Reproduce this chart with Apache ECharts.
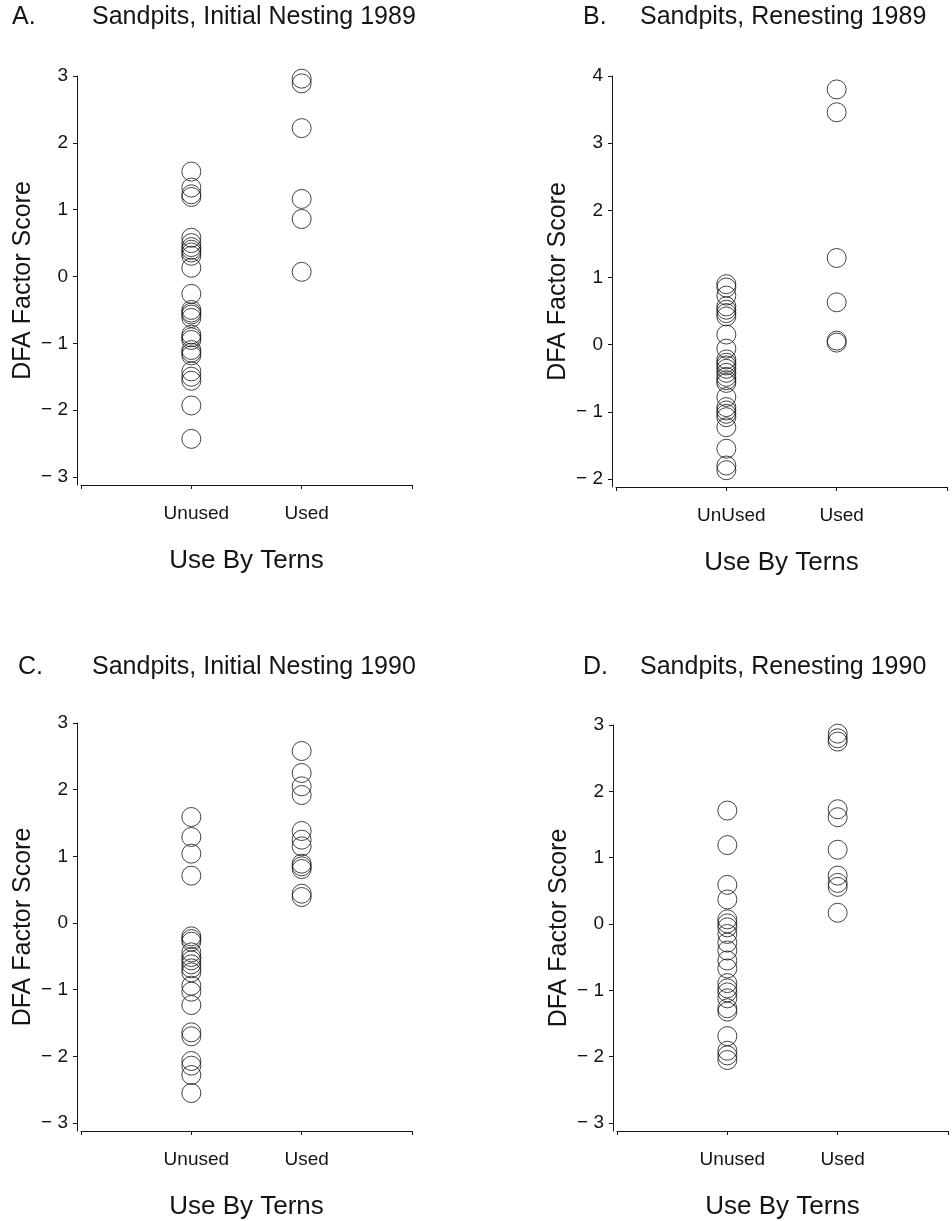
<!DOCTYPE html>
<html>
<head>
<meta charset="utf-8">
<script src="https://cdn.jsdelivr.net/npm/echarts@6/dist/echarts.min.js"></script>
<style>
html,body{margin:0;padding:0;background:#fff;}
#chart{width:952px;height:1221px;}
</style>
</head>
<body>
<div id="chart"></div>
<script>
// ---- data ----
const panelLetters = ['A.', 'B.', 'C.', 'D.'];
const panelTitles = ['Sandpits, Initial Nesting 1989', 'Sandpits, Renesting 1989',
                     'Sandpits, Initial Nesting 1990', 'Sandpits, Renesting 1990'];
const xLabelsA = ['Unused', 'Used'];
const xLabelsB = ['UnUsed', 'Used'];
const xLabelsC = ['Unused', 'Used'];
const xLabelsD = ['Unused', 'Used'];
const yTicksACD = [-3, -2, -1, 0, 1, 2, 3];
const yTicksB = [-2, -1, 0, 1, 2, 3, 4];

const A_unused = [1.57, 1.33, 1.23, 1.19, 0.58, 0.50, 0.44, 0.40, 0.36, 0.31, 0.13, -0.26, -0.50, -0.54, -0.57, -0.62, -0.87, -0.91, -0.95, -1.10, -1.14, -1.18, -1.42, -1.50, -1.56, -1.93, -2.43];
const A_used = [2.96, 2.89, 2.22, 1.16, 0.86, 0.07];
const B_unused = [0.90, 0.85, 0.73, 0.57, 0.52, 0.47, 0.42, 0.15, -0.06, -0.22, -0.27, -0.31, -0.36, -0.42, -0.48, -0.53, -0.57, -0.78, -0.93, -0.98, -1.03, -1.08, -1.23, -1.55, -1.80, -1.87];
const B_used = [3.80, 3.46, 1.29, 0.63, 0.06, 0.03];
const C_unused = [1.59, 1.29, 1.04, 0.71, -0.20, -0.24, -0.28, -0.44, -0.51, -0.56, -0.62, -0.68, -0.74, -0.94, -1.03, -1.23, -1.64, -1.70, -2.07, -2.14, -2.28, -2.55];
const C_used = [2.58, 2.25, 2.05, 1.92, 1.38, 1.25, 1.15, 0.89, 0.85, 0.81, 0.44, 0.39];
const D_unused = [1.71, 1.19, 0.59, 0.37, 0.07, 0.01, -0.05, -0.15, -0.28, -0.40, -0.55, -0.67, -0.89, -0.97, -1.03, -1.12, -1.27, -1.32, -1.69, -1.91, -1.98, -2.05];
const D_used = [2.87, 2.80, 2.75, 1.73, 1.61, 1.12, 0.73, 0.62, 0.56, 0.17];

// ---- layout ----
const FONT = "'Liberation Sans', Arial, Helvetica, sans-serif";
const INK = '#151515';
const grids = [
  {left: 81, top: 76, width: 331, height: 409},
  {left: 616, top: 76, width: 331, height: 411},
  {left: 81, top: 723, width: 331, height: 413},
  {left: 617, top: 725, width: 331, height: 408}
];
const yRanges = [
  {min: -3.12, max: 3, ticks: yTicksACD},
  {min: -2.12, max: 4, ticks: yTicksB},
  {min: -3.12, max: 3, ticks: yTicksACD},
  {min: -3.12, max: 3, ticks: yTicksACD}
];
const xLabelSets = [xLabelsA, xLabelsB, xLabelsC, xLabelsD];
const unusedSets = [A_unused, B_unused, C_unused, D_unused];
const usedSets = [A_used, B_used, C_used, D_used];
const titleTops = [5, 5, 655, 655];
const titleLefts = [[12, 92], [583, 640], [18, 92], [583, 640]];

const lineStyle = {color: INK, width: 1};

const option = {
  backgroundColor: '#fff',
  animation: false,
  title: [],
  grid: grids.map(g => Object.assign({containLabel: false}, g)),
  xAxis: [],
  yAxis: [],
  series: []
};

for (let i = 0; i < 4; i++) {
  option.title.push({
    text: panelLetters[i], left: titleLefts[i][0], top: titleTops[i], padding: 0,
    textStyle: {fontFamily: FONT, fontSize: 25, fontWeight: 'normal', color: INK}
  });
  option.title.push({
    text: panelTitles[i], left: titleLefts[i][1], top: titleTops[i], padding: 0,
    textStyle: {fontFamily: FONT, fontSize: 25, fontWeight: 'normal', color: INK}
  });
  const labels = xLabelSets[i];
  option.xAxis.push({
    gridIndex: i, type: 'value', min: 0, max: 3, interval: 1,
    axisLine: {show: true, onZero: false, lineStyle},
    axisTick: {show: true, length: 4, lineStyle},
    splitLine: {show: false},
    axisLabel: {
      fontFamily: FONT, fontSize: 19, color: INK, margin: 19,
      padding: [0, 0, 0, 10],
      showMinLabel: true, showMaxLabel: true,
      formatter: v => (v === 1 ? labels[0] : (v === 2 ? labels[1] : ''))
    },
    name: 'Use By Terns', nameLocation: 'middle', nameGap: 63,
    nameTextStyle: {fontFamily: FONT, fontSize: 26, color: INK}
  });
  const yr = yRanges[i];
  option.yAxis.push({
    gridIndex: i, type: 'value', min: yr.min, max: yr.max, offset: 4,
    axisLine: {show: true, onZero: false, lineStyle},
    axisTick: {show: true, length: 4, lineStyle, customValues: yr.ticks},
    splitLine: {show: false},
    axisLabel: {
      fontFamily: FONT, fontSize: 19, color: INK, margin: 9,
      customValues: yr.ticks,
      formatter: v => (v < 0 ? '\u2212 ' + Math.abs(v) : String(v))
    },
    name: 'DFA Factor Score', nameLocation: 'middle', nameGap: 41,
    nameTextStyle: {fontFamily: FONT, fontSize: 25, color: INK}
  });
  const sym = {
    type: 'scatter', xAxisIndex: i, yAxisIndex: i,
    symbol: 'circle', symbolSize: 19,
    itemStyle: {color: 'rgba(0,0,0,0)', borderColor: INK, borderWidth: 1},
    emphasis: {disabled: true},
    silent: true
  };
  option.series.push(Object.assign({}, sym, {data: unusedSets[i].map(v => [1, v])}));
  option.series.push(Object.assign({}, sym, {data: usedSets[i].map(v => [2, v])}));
}

const chart = echarts.init(document.getElementById('chart'), null, {renderer: 'canvas'});
chart.setOption(option);
</script>
</body>
</html>
